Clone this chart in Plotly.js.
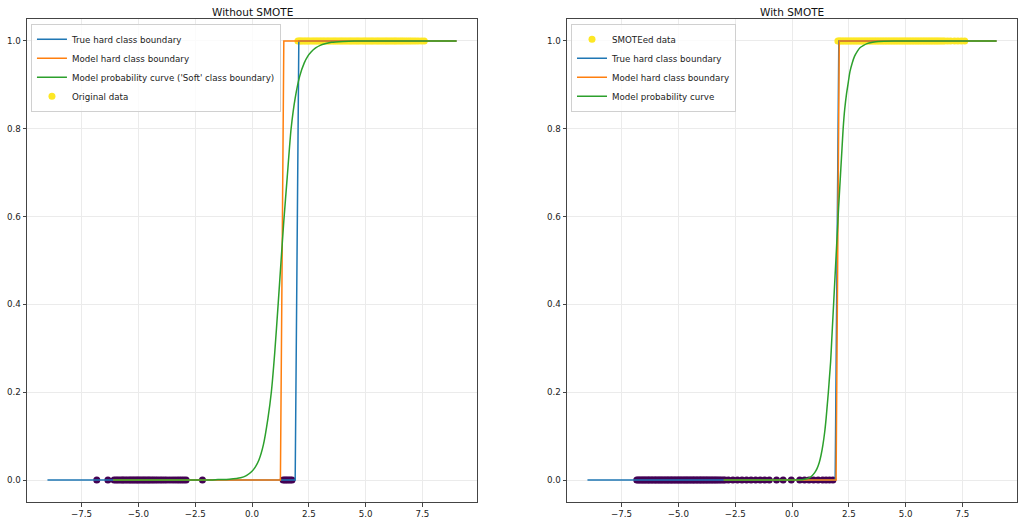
<!DOCTYPE html>
<html>
<head>
<meta charset="utf-8">
<script src="https://cdn.plot.ly/plotly-3.0.1.min.js"></script>
<style>html,body{margin:0;padding:0;background:#fff}#chart{width:1024px;height:524px}</style>
</head>
<body>
<div id="chart"></div>
<script>
// ---------- Left panel: Without SMOTE ----------
const leftTrueX = [-9, 1.9, 2.06, 9];
const leftTrueY = [0, 0, 1, 1];
const leftModelX = [-6.1, 1.25, 1.4, 9];
const leftModelY = [0, 0, 1, 1];
const leftProbX = [-6.1, -2.0, -1.5, -1.0, -0.5, -0.25, 0.0, 0.15, 0.3, 0.5, 0.7, 0.85, 1.0, 1.15, 1.28, 1.4, 1.55, 1.72, 1.9, 2.1, 2.3, 2.45, 2.6, 2.8, 3.0, 3.25, 3.5, 4.0, 4.5, 5.0, 9.0];
const leftProbY = [0, 0.0, 0.001, 0.002, 0.005, 0.01, 0.02, 0.03, 0.045, 0.08, 0.14, 0.2, 0.29, 0.4, 0.5, 0.59, 0.69, 0.8, 0.87, 0.92, 0.95, 0.965, 0.975, 0.984, 0.99, 0.994, 0.997, 0.999, 1.0, 1.0, 1.0];
const leftClass0X = [-6.83, -6.34, -6.07, -5.98, -5.9, -5.81, -5.72, -5.66, -5.57, -5.49, -5.4, -5.33, -5.25, -5.18, -5.1, -5.03, -4.96, -4.88, -4.8, -4.73, -4.65, -4.57, -4.5, -4.41, -4.33, -4.24, -4.15, -4.05, -3.96, -3.86, -3.76, -3.64, -3.52, -3.41, -3.3, -3.2, -3.1, -3.0, -2.9, -2.18, 1.37, 1.45, 1.52, 1.6, 1.68, 1.76];
const leftClass1X = [2.02, 2.09, 2.15, 2.22, 2.3, 2.37, 2.45, 2.51, 2.6, 2.68, 2.75, 2.83, 2.9, 2.98, 3.05, 3.13, 3.2, 3.29, 3.36, 3.44, 3.52, 3.6, 3.67, 3.75, 3.83, 3.91, 3.98, 4.06, 4.14, 4.22, 4.3, 4.37, 4.45, 4.53, 4.61, 4.68, 4.76, 4.85, 4.93, 5.0, 5.08, 5.16, 5.24, 5.31, 5.39, 5.48, 5.55, 5.63, 5.71, 5.79, 5.87, 5.94, 6.02, 6.1, 6.18, 6.26, 6.33, 6.41, 6.5, 6.58, 6.66, 6.75, 6.84, 6.93, 7.02, 7.12, 7.22, 7.33, 7.46, 7.58];

// ---------- Right panel: With SMOTE ----------
const rightTrueX = [-9, 1.9, 2.06, 9];
const rightTrueY = [0, 0, 1, 1];
const rightModelX = [-3.0, 1.94, 2.08, 9];
const rightModelY = [0, 0, 1, 1];
const rightProbX = [-3.0, 0.0, 0.5, 0.8, 1.0, 1.1, 1.2, 1.28, 1.36, 1.44, 1.5, 1.55, 1.6, 1.65, 1.7, 1.75, 1.8, 1.86, 1.93, 2.0, 2.05, 2.1, 2.15, 2.2, 2.25, 2.32, 2.4, 2.48, 2.55, 2.65, 2.75, 2.88, 3.0, 3.15, 3.3, 3.55, 3.8, 4.5, 9.0];
const rightProbY = [0, 0.0, 0.001, 0.006, 0.017, 0.026, 0.04, 0.057, 0.08, 0.11, 0.14, 0.17, 0.2, 0.235, 0.27, 0.32, 0.37, 0.43, 0.5, 0.57, 0.62, 0.665, 0.71, 0.755, 0.8, 0.845, 0.88, 0.907, 0.93, 0.95, 0.965, 0.977, 0.985, 0.99, 0.994, 0.997, 0.999, 1.0, 1.0];
const rightClass0X = [-6.83, -6.77, -6.7, -6.64, -6.57, -6.51, -6.45, -6.38, -6.32, -6.26, -6.19, -6.13, -6.06, -6.0, -5.94, -5.87, -5.81, -5.75, -5.68, -5.62, -5.55, -5.49, -5.43, -5.36, -5.3, -5.24, -5.17, -5.11, -5.04, -4.98, -4.92, -4.85, -4.79, -4.72, -4.66, -4.6, -4.53, -4.47, -4.4, -4.34, -4.28, -4.21, -4.15, -4.08, -4.02, -3.96, -3.89, -3.83, -3.76, -3.7, -3.63, -3.56, -3.49, -3.42, -3.35, -3.28, -3.2, -3.12, -3.03, -2.95, -2.8, -2.6, -2.4, -2.2, -2.0, -1.8, -1.6, -1.4, -1.2, -1.0, -0.68, -0.39, -0.03, 0.34, 0.55, 0.75, 0.95, 1.15, 1.35, 1.5, 1.65, 1.8];
const rightClass1X = [2.02, 2.08, 2.14, 2.21, 2.28, 2.35, 2.42, 2.49, 2.56, 2.63, 2.7, 2.77, 2.84, 2.91, 2.98, 3.05, 3.12, 3.19, 3.26, 3.33, 3.4, 3.47, 3.54, 3.61, 3.68, 3.75, 3.82, 3.89, 3.96, 4.03, 4.1, 4.17, 4.24, 4.31, 4.38, 4.45, 4.52, 4.59, 4.66, 4.73, 4.8, 4.87, 4.94, 5.01, 5.08, 5.15, 5.22, 5.29, 5.36, 5.43, 5.5, 5.57, 5.64, 5.71, 5.78, 5.85, 5.92, 5.99, 6.06, 6.13, 6.2, 6.27, 6.34, 6.41, 6.48, 6.56, 6.64, 6.72, 6.85, 6.98, 7.15, 7.3, 7.45, 7.6];

const xTickVals = [-7.5, -5.0, -2.5, 0.0, 2.5, 5.0, 7.5];
const yTickVals = [0.0, 0.2, 0.4, 0.6, 0.8, 1.0];
const titles = ["Without SMOTE", "With SMOTE"];
const leftNames = ["True hard class boundary", "Model hard class boundary", "Model probability curve ('Soft' class boundary)", "Original data"];
const rightNames = ["SMOTEed data", "True hard class boundary", "Model hard class boundary", "Model probability curve"];

const BLUE = '#1f77b4', ORANGE = '#ff7f0e', GREEN = '#2ca02c', PURPLE = '#440154', YELLOW = '#fde725';
const zeros = a => a.map(() => 0);
const ones = a => a.map(() => 1);

function pts(x, y, color, name, xa, ya, legend, rank, show) {
  return {type: 'scatter', mode: 'markers', x: x, y: y, xaxis: xa, yaxis: ya, name: name,
    marker: {color: color, size: 7, line: {width: 0}}, legend: legend, legendrank: rank,
    showlegend: show, hoverinfo: 'skip'};
}
function line(x, y, color, name, xa, ya, legend, rank, smooth) {
  const ln = {color: color, width: 1.5};
  if (smooth) { ln.shape = 'spline'; ln.smoothing = 0.6; }
  return {type: 'scatter', mode: 'lines', x: x, y: y, xaxis: xa, yaxis: ya, name: name,
    line: ln, legend: legend, legendrank: rank, hoverinfo: 'skip'};
}

const data = [
  pts(leftClass0X, zeros(leftClass0X), PURPLE, leftNames[3], 'x', 'y', 'legend', 4, false),
  pts(leftClass1X, ones(leftClass1X), YELLOW, leftNames[3], 'x', 'y', 'legend', 4, true),
  line(leftTrueX, leftTrueY, BLUE, leftNames[0], 'x', 'y', 'legend', 1, false),
  line(leftModelX, leftModelY, ORANGE, leftNames[1], 'x', 'y', 'legend', 2, false),
  line(leftProbX, leftProbY, GREEN, leftNames[2], 'x', 'y', 'legend', 3, true),
  pts(rightClass0X, zeros(rightClass0X), PURPLE, rightNames[0], 'x2', 'y2', 'legend2', 1, false),
  pts(rightClass1X, ones(rightClass1X), YELLOW, rightNames[0], 'x2', 'y2', 'legend2', 1, true),
  line(rightTrueX, rightTrueY, BLUE, rightNames[1], 'x2', 'y2', 'legend2', 2, false),
  line(rightModelX, rightModelY, ORANGE, rightNames[2], 'x2', 'y2', 'legend2', 3, false),
  line(rightProbX, rightProbY, GREEN, rightNames[3], 'x2', 'y2', 'legend2', 4, true)
];

const FONT = 'DejaVu Sans, sans-serif';
function xax(domain, anchor) {
  return {domain: domain, anchor: anchor, range: [-9.9, 9.9], tickvals: xTickVals, tickformat: '.1f',
    showgrid: true, gridcolor: '#ebebeb', gridwidth: 1, zeroline: false,
    showline: true, mirror: true, linecolor: '#444', linewidth: 1,
    ticks: 'outside', ticklen: 3.5, tickwidth: 1, tickcolor: '#444',
    tickfont: {family: FONT, size: 8.7, color: '#222'}};
}
function yax(anchor) {
  return {domain: [0, 1], anchor: anchor, range: [-0.05, 1.05], tickvals: yTickVals, tickformat: '.1f',
    showgrid: true, gridcolor: '#ebebeb', gridwidth: 1, zeroline: false,
    showline: true, mirror: true, linecolor: '#444', linewidth: 1,
    ticks: 'outside', ticklen: 3.5, tickwidth: 1, tickcolor: '#444',
    tickfont: {family: FONT, size: 8.7, color: '#222'}};
}
const legendStyle = (x) => ({x: x, y: 0.99, xanchor: 'left', yanchor: 'top', xref: 'paper', yref: 'paper',
  bgcolor: 'rgba(255,255,255,0.8)', bordercolor: '#d0d0d0', borderwidth: 1,
  font: {family: FONT, size: 8.7, color: '#222'}, tracegroupgap: 0, itemsizing: 'trace'});

const layout = {
  width: 1024, height: 524,
  margin: {l: 27, r: 7, t: 19, b: 22, pad: 0},
  paper_bgcolor: '#fff', plot_bgcolor: '#fff',
  font: {family: FONT, color: '#222'},
  showlegend: true,
  xaxis: xax([0, 450 / 990], 'y'),
  yaxis: yax('x'),
  xaxis2: xax([540 / 990, 1], 'y2'),
  yaxis2: yax('x2'),
  legend: legendStyle(0.004),
  legend2: legendStyle(0.5495),
  annotations: [
    {text: titles[0], xref: 'paper', yref: 'paper', x: 225 / 990, y: 1.0151, xanchor: 'center', yanchor: 'middle', showarrow: false, font: {family: FONT, size: 10.5, color: '#111'}},
    {text: titles[1], xref: 'paper', yref: 'paper', x: 765 / 990, y: 1.0151, xanchor: 'center', yanchor: 'middle', showarrow: false, font: {family: FONT, size: 10.5, color: '#111'}}
  ]
};

Plotly.newPlot('chart', data, layout, {staticPlot: true, displayModeBar: false});
</script>
</body>
</html>
